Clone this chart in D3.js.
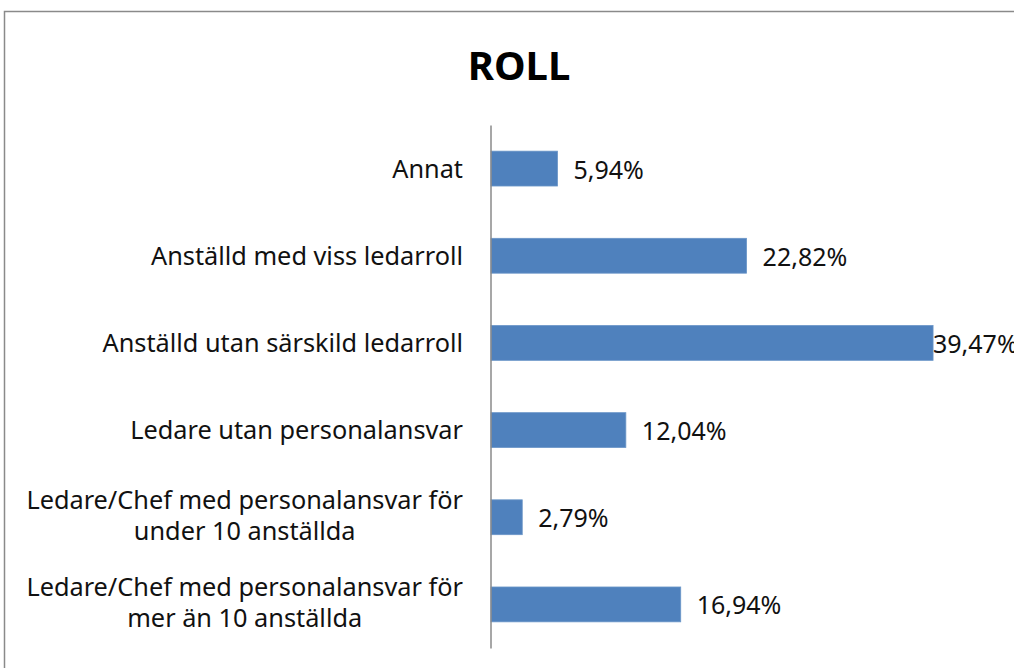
<!DOCTYPE html>
<html>
<head>
<meta charset="utf-8">
<script src="https://cdn.jsdelivr.net/npm/d3@7"></script>
<style>
  html, body { margin: 0; padding: 0; background: #ffffff; }
  svg { display: block; }
</style>
</head>
<body>
<svg id="chart" width="1014" height="668"></svg>
<script>
const title = "ROLL";
const categories = [
  "Annat",
  "Anställd med viss ledarroll",
  "Anställd utan särskild ledarroll",
  "Ledare utan personalansvar",
  "Ledare/Chef med personalansvar för\nunder 10 anställda",
  "Ledare/Chef med personalansvar för\nmer än 10 anställda"
];
const values = [5.94, 22.82, 39.47, 12.04, 2.79, 16.94];
const valueLabels = ["5,94%", "22,82%", "39,47%", "12,04%", "2,79%", "16,94%"];
const xMax = 40;

const W = 1014, H = 668;
const svg = d3.select("#chart");
const FONT = "'Noto Sans', 'Open Sans', sans-serif";

// outer chart border
svg.append("rect")
  .attr("x", 4.5).attr("y", 11.5)
  .attr("width", W + 20).attr("height", H + 20)
  .attr("fill", "#ffffff")
  .attr("stroke", "#8a8a8a").attr("stroke-width", 1.5);

// title
svg.append("text")
  .attr("x", 519).attr("y", 80)
  .attr("text-anchor", "middle")
  .attr("font-family", FONT)
  .attr("font-weight", "bold")
  .attr("font-size", 40)
  .attr("fill", "#000")
  .text(title);

const x = d3.scaleLinear().domain([0, xMax]).range([491, 939]);
const y = d3.scaleBand().domain(categories).range([125, 648])
  .paddingInner(0.6).paddingOuter(0.3);

// bars
svg.append("g").selectAll("rect")
  .data(categories)
  .join("rect")
  .attr("x", x(0))
  .attr("y", d => y(d))
  .attr("width", (d, i) => x(values[i]) - x(0))
  .attr("height", y.bandwidth())
  .attr("fill", "#4f81bd")
  .attr("stroke", "#6b96c8")
  .attr("stroke-width", 0.8);

// category axis (vertical line, no ticks)
const axis = d3.axisLeft(y).tickSize(0).tickFormat("");
const gAxis = svg.append("g")
  .attr("transform", `translate(${490.5},0)`)
  .call(axis);
gAxis.select(".domain").attr("stroke", "#8a8a8a").attr("stroke-width", 1.5);

// category labels
const lineH = 31;
const labelG = svg.append("g");
categories.forEach((c, i) => {
  const lines = c.split("\n");
  const cy = y(c) + y.bandwidth() / 2 - 1;
  const t = labelG.append("text")
    .attr("font-family", FONT)
    .attr("font-size", 25.3)
    .attr("fill", "#111")
    .attr("dominant-baseline", "central");
  if (lines.length === 1) {
    t.attr("x", 463).attr("y", cy).attr("text-anchor", "end").text(lines[0]);
  } else {
    const tmp = t.append("tspan").text(lines[0]);
    const w = tmp.node().getComputedTextLength();
    tmp.remove();
    const centerX = 463 - w / 2;
    t.attr("text-anchor", "middle");
    lines.forEach((ln, k) => {
      t.append("tspan")
        .attr("x", centerX)
        .attr("y", cy - 2 + (k - (lines.length - 1) / 2) * lineH)
        .text(ln);
    });
  }
});

// value labels
svg.append("g").selectAll("text")
  .data(categories)
  .join("text")
  .attr("x", (d, i) => Math.min(x(values[i]) + 16, 933))
  .attr("y", d => y(d) + y.bandwidth() / 2)
  .attr("dominant-baseline", "central")
  .attr("font-family", FONT)
  .attr("font-size", 25)
  .attr("fill", "#111")
  .text((d, i) => valueLabels[i]);
</script>
</body>
</html>
